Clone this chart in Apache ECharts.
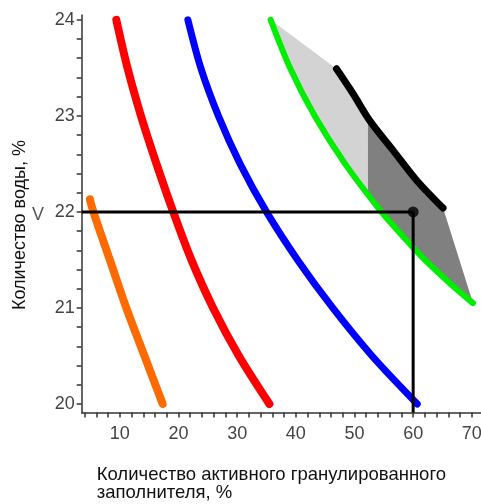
<!DOCTYPE html>
<html><head><meta charset="utf-8">
<script src="https://cdn.jsdelivr.net/npm/echarts@6/dist/echarts.min.js"></script>
<style>html,body{margin:0;padding:0;background:#fff}#c{width:481px;height:504px}</style>
</head><body><div id="c"></div>
<script>
const xTickLabels = [10, 20, 30, 40, 50, 60, 70];
const yTickLabels = [20, 21, 22, 23, 24];
const xTitle1 = 'Количество активного гранулированного';
const xTitle2 = 'заполнителя, %';
const yTitle = 'Количество воды, %';
const yMark = 'V';

const orange = [[4.9,22.13],[5.5,22.0],[8.3,21.5],[11.1,21.0],[14.2,20.5],[17.3,20.0]];
const red = [[9.4,24.0],[11.3,23.5],[13.6,23.0],[16.25,22.5],[19.1,22.0],[22.2,21.5],[25.9,21.0],[30.3,20.5],[35.5,20.0]];
const blue = [[21.6,24.0],[23.8,23.5],[26.8,23.0],[30.5,22.5],[35.0,22.0],[40.3,21.5],[46.3,21.0],[53.0,20.5],[60.7,20.0]];
const green = [[35.7,24.0],[39.0,23.5],[43.2,23.0],[48.4,22.5],[54.6,22.0],[58.2,21.75],[62.0,21.5],[66.4,21.25],[70.2,21.05]];
const black = [[46.93,23.49],[49.76,23.23],[52.6,22.95],[56.58,22.64],[60.57,22.33],[65.1,22.04]];
const lightRegion = [[35.7,24.0],[39.0,23.5],[43.2,23.0],[48.4,22.5],[52.3,22.19],[52.3,22.93],[49.76,23.23],[46.93,23.49]];
const darkRegion = [[52.3,22.93],[52.3,22.19],[54.6,22.0],[58.2,21.75],[62.0,21.5],[66.4,21.25],[70.2,21.05],[65.1,22.04],[60.57,22.33],[56.58,22.64],[52.6,22.95]];
const refPoint = [60, 22];
const xMin = 3.5, xMax = 71.6, yMin = 19.91, yMax = 24.05;
const refH = [[xMin, 22], [60, 22]];
const refV = [[60, 22], [60, yMin]];

const FONT = '"Liberation Sans", Arial, sans-serif';
const chart = echarts.init(document.getElementById('c'), null, {renderer: 'canvas'});

function polySeries(region, fill) {
  return {
    type: 'custom', xAxisIndex: 0, yAxisIndex: 0, z: 1, silent: true,
    data: [[region[0][0], region[0][1]]],
    renderItem: function (params, api) {
      return {type: 'polygon', shape: {points: region.map(function (p) { return api.coord(p); })}, style: {fill: fill}};
    }
  };
}
function curve(data, color, width) {
  return {type: 'line', xAxisIndex: 0, yAxisIndex: 0, data: data, smooth: 0.3, showSymbol: false, z: 3, silent: true,
    lineStyle: {color: color, width: width, cap: 'round', join: 'round'}};
}

chart.setOption({
  animation: false,
  backgroundColor: '#fff',
  grid: [
    {left: 81.7, top: 15.0, width: 399.5, height: 397.6, outerBoundsMode: 'none', containLabel: false},
    {left: 84.63, top: 19.8, width: 387.2, height: 384.2, outerBoundsMode: 'none', containLabel: false}
  ],
  xAxis: [
    {type: 'value', gridIndex: 0, min: xMin, max: xMax, axisLine: {show: true, lineStyle: {color: '#333', width: 1.5}},
      axisTick: {show: false}, axisLabel: {show: false}, splitLine: {show: false}},
    {type: 'value', gridIndex: 1, min: 4, max: 70, interval: 2, offset: 8.6, axisLine: {show: false},
      axisTick: {show: true, length: 5, lineStyle: {color: '#333', width: 1.5}},
      axisLabel: {show: true, margin: 12, color: '#444', fontSize: 18, fontFamily: FONT,
        formatter: function (v) { const r = Math.round(v); return xTickLabels.indexOf(r) >= 0 && Math.abs(v - r) < 1e-6 ? String(r) : ''; }},
      splitLine: {show: false}}
  ],
  yAxis: [
    {type: 'value', gridIndex: 0, min: yMin, max: yMax, axisLine: {show: true, lineStyle: {color: '#333', width: 1.5}},
      axisTick: {show: false}, axisLabel: {show: false}, splitLine: {show: false}},
    {type: 'value', gridIndex: 1, min: 20, max: 24, interval: 0.2, offset: 2.93, axisLine: {show: false},
      axisTick: {show: true, length: 5, lineStyle: {color: '#333', width: 1.5}},
      axisLabel: {show: true, margin: 7, color: '#444', fontSize: 18, fontFamily: FONT,
        formatter: function (v) { const r = Math.round(v); return yTickLabels.indexOf(r) >= 0 && Math.abs(v - r) < 1e-6 ? String(r) : ''; }},
      splitLine: {show: false}}
  ],
  series: [
    polySeries(lightRegion, '#d3d3d3'),
    polySeries(darkRegion, '#808080'),
    curve(orange, '#ff6a00', 8),
    curve(red, '#ff0000', 8),
    curve(blue, '#0000ff', 7),
    curve(green, '#00ee00', 6),
    curve(black, '#000000', 7),
    {type: 'line', xAxisIndex: 0, yAxisIndex: 0, data: refH, showSymbol: false, z: 4, silent: true, lineStyle: {color: '#000', width: 3}},
    {type: 'line', xAxisIndex: 0, yAxisIndex: 0, data: refV, showSymbol: false, z: 4, silent: true, lineStyle: {color: '#000', width: 3}},
    {type: 'scatter', xAxisIndex: 0, yAxisIndex: 0, data: [refPoint], symbolSize: 11, z: 5, silent: true, itemStyle: {color: '#000'}}
  ],
  graphic: [
    {type: 'text', x: 20, y: 225, rotation: Math.PI / 2, style: {text: yTitle, font: '18px ' + FONT, fill: '#111', align: 'center', verticalAlign: 'middle'}},
    {type: 'text', x: 38, y: 215, style: {text: yMark, font: '18px ' + FONT, fill: '#555', align: 'center', verticalAlign: 'middle'}},
    {type: 'text', x: 96.7, y: 475, style: {text: xTitle1, font: '18.5px ' + FONT, fill: '#111', align: 'left', verticalAlign: 'middle'}},
    {type: 'text', x: 96.7, y: 493, style: {text: xTitle2, font: '18.5px ' + FONT, fill: '#111', align: 'left', verticalAlign: 'middle'}}
  ]
});
</script></body></html>
